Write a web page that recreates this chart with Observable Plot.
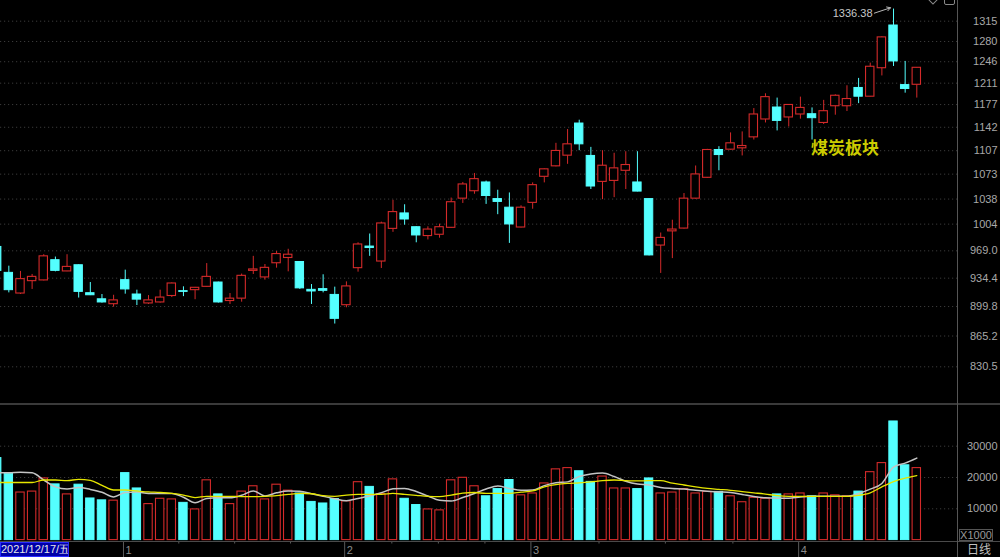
<!DOCTYPE html>
<html><head><meta charset="utf-8">
<script src="https://cdn.jsdelivr.net/npm/d3@7"></script>
<script src="https://cdn.jsdelivr.net/npm/@observablehq/plot@0.6"></script>
<style>
html,body{margin:0;padding:0;background:#000;overflow:hidden;}
#wrap{position:relative;width:1000px;height:557px;background:#000;overflow:hidden;font-family:"Liberation Sans",Arial,sans-serif;}
#wrap svg{position:absolute;left:0;display:block;overflow:hidden;}
.abs{position:absolute;}
</style></head><body><div id="wrap"></div>
<script>
// ---- data ----
const open  = [974,941,915.5,930.7,931.6,957,942.8,950.6,915.9,908.5,902.6,931.9,914.3,903.5,904.7,912.5,918.4,919.6,923.7,929,906.4,909.3,943.5,935.3,953.1,959.8,954.7,920,920.9,913.8,901.4,946.9,974.5,955.3,997.7,1018.4,999.9,988.2,989.9,999.1,1038.6,1048.9,1061.2,1038,1026.2,999.5,1032.8,1069.2,1084.2,1099.7,1147.7,1099.3,1062,1063.4,1077.8,1061.2,1038,975.8,994.4,998.1,1038.6,1067.8,1108,1108.5,1110.5,1126.8,1153.9,1172.4,1157,1161.6,1162,1148.6,1174.4,1174.4,1203.3,1189.4,1235.3,1307.5,1207.9,1208.4];
const high  = [976,949.4,942.8,939,964,961,964,951,929,914.3,913.4,944.4,919.6,913,919.6,928.5,923.7,923,952.7,929.5,915.5,939.5,961.9,951.5,968.1,971,955,926.5,938.6,923.3,929.8,979.4,990.9,1006.7,1036.3,1030.2,1000.5,1000.4,1004,1039.4,1061.2,1074,1063.1,1050.3,1046.5,1028.8,1060.6,1080.5,1117.9,1138.6,1152.8,1111.9,1107,1103.2,1105.5,1105.5,1038.5,992.2,1009.2,1045.7,1084.7,1109,1112.9,1133.5,1135,1170.8,1194,1187.2,1177,1188.7,1171.8,1183.6,1192.4,1206.8,1218.7,1243.7,1288,1336.38,1246.5,1236.5];
const low   = [941,916.3,914.3,920.5,931,942.3,942.5,910,913,903.9,899,914.7,901,902.3,904,910.6,911.7,908,923.5,904,902.3,905,939,931.9,946.9,942.3,920.5,902.3,916.3,879.1,898.3,941.9,961.9,946.5,993.1,1002.6,979.4,983.1,985.4,998.5,1032,1044.7,1030.7,1016.7,978.6,999,1024.1,1060.6,1083.5,1087.1,1107,1051.3,1037.2,1040,1051.3,1048,962.5,940.3,959,997.5,1038,1067,1077.8,1108,1099.3,1122.8,1148.6,1136.5,1142.5,1154.4,1122.8,1146.2,1160.5,1166.2,1178.5,1189,1222.7,1238.2,1195,1187.2];
const close = [943.5,919.6,933.2,936,961.9,943.5,948.5,917.5,913.4,904.7,907.2,920.5,908.1,907.2,910.6,927.8,917.5,922.5,936,904.7,909.3,937.3,945.3,947.3,964.8,964,921.8,918,918.8,885.2,924.2,977.2,972.6,1004.9,1020.2,1010.2,989,996.8,999.9,1033.7,1058.4,1065.9,1042.3,1034.1,1003.6,1026.2,1057.4,1079.9,1106.6,1116.4,1116.4,1055.5,1085.1,1081.3,1086.1,1048.4,963.1,985.8,996.8,1038.6,1072.6,1108,1100.6,1117.9,1113.9,1161.6,1188.7,1151.7,1176.4,1171.8,1155.9,1166.7,1190.9,1185.7,1189.4,1237.7,1287,1246.5,1201.7,1236];
// volume, in units of 1000 (axis shows X1000)
const volume = [26200,21200,15200,15500,19700,17800,14600,17700,13300,12700,12600,21400,16500,11500,13200,13000,11900,9800,19100,14600,11500,15500,17200,13000,17700,15800,14900,12200,11700,13100,12400,18500,17000,14700,19400,13200,11200,9800,9500,19100,19900,17200,14000,16300,19200,14300,14900,18100,22600,23000,22000,18600,20300,16500,16500,16300,19700,14900,15200,16300,14900,15400,15400,14000,12100,13500,13200,14600,14600,14900,14000,14900,14300,14000,15500,21700,24600,37900,23900,23000];
const ma5  = [21500,21500,21700,21500,19200,17000,16300,16800,16200,15300,13800,15200,15400,14900,14900,14900,13700,11900,13300,13500,13500,14300,15700,14100,15100,15700,15600,14800,14000,13200,12600,13300,14100,15100,16400,16500,15500,14100,12700,12500,13600,14900,16300,17300,16500,15900,16000,17400,18300,18600,20300,21100,21400,20300,18800,17900,17600,16800,16500,16300,15900,15600,15400,15200,14600,13900,13500,13400,13400,13800,14000,14000,14000,14000,14900,16300,18100,23300,24600,26200];
const ma10 = [18400,18400,18400,18400,19200,19200,19000,19400,19100,17500,16000,16000,15700,15400,15200,14900,14400,13600,14000,14000,14000,13900,13900,14000,14200,14600,14900,14800,14200,14000,14400,14600,14600,14600,14900,14600,14300,14000,13900,14400,15000,15200,14900,14900,14900,15300,15700,17000,17700,18100,18300,18600,19000,19200,19000,18900,19000,19000,18200,17600,17000,16500,16200,15900,15500,15100,14700,14200,14000,14000,14000,14000,14000,14000,14300,15100,17000,18700,19800,20600];
const priceTicks  = [1315,1280,1246,1211,1177,1142,1107,1073,1038,1004,969.0,934.4,899.8,865.2,830.5];
const priceLabels = ["1315","1280","1246","1211","1177","1142","1107","1073","1038","1004","969.0","934.4","899.8","865.2","830.5"];
const volTicks  = [10000,20000,30000];
const volLabels = ["10000","20000","30000"];
const monthStart  = [12,31,47,70];        // candle index of first trading day of month
const monthLabels = ["1","2","3","4"];
const minorTicks  = [16.6,21.4,26.2,34.9,38.9,42.9,52.7,58.4,64.2];
const firstDate = "2021/12/17/五";
const sectorName = "煤炭板块";
const peakLabel = "1336.38";

// ---- build ----
const data = open.map((o,k)=>({i:k+1, open:o, high:high[k], low:low[k], close:close[k], vol:volume[k], ma5:ma5[k], ma10:ma10[k]}));
const isUp = d => d.close >= d.open;
const ups = data.filter(isUp), downs = data.filter(d=>!isUp(d));
const RED = "#d42a2a", CYAN = "#54ffff", GRID = "#3a3a3a", LBL = "#a8a8a8";
const HW = 0.36;
const xScale = {type:"linear", domain:[1,80], range:[-3.3, 916.3], axis:null};
const style = {background:"transparent", fontFamily:"'Liberation Sans',Arial,sans-serif", fontSize:"11px", overflow:"hidden"};
const wrap = document.getElementById("wrap");
const peak = data.filter(d=>d.high===d3.max(high));

const main = Plot.plot({
  width:1000, height:404, marginLeft:0, marginRight:43, marginTop:0, marginBottom:0,
  style, x:xScale,
  y:{type:"log", domain:[789.9,1351.7], range:[404,0], axis:null},
  marks:[
    Plot.gridY(priceTicks, {stroke:GRID, strokeOpacity:1, strokeDasharray:"1.2,2.8"}),
    Plot.ruleX(ups, {x:"i", y1:"low", y2:"high", stroke:RED}),
    Plot.ruleX(downs, {x:"i", y1:"low", y2:"high", stroke:CYAN}),
    Plot.rect(ups, {x1:d=>d.i-HW, x2:d=>d.i+HW, y1:"open", y2:"close", fill:"#000", stroke:RED, strokeWidth:1.1}),
    Plot.rect(downs, {x1:d=>d.i-HW, x2:d=>d.i+HW, y1:"open", y2:"close", fill:CYAN, stroke:CYAN, strokeWidth:1}),
    Plot.text(priceTicks, {y:d=>d, text:(d,k)=>priceLabels[k], frameAnchor:"right", dx:40, textAnchor:"end", fill:LBL, fontSize:11}),
    Plot.text(peak, {x:"i", y:"high", text:()=>peakLabel, dx:-21, dy:4, textAnchor:"end", fill:"#c8c8c8", fontSize:11}),
    Plot.arrow(peak, {x1:d=>d.i-1.65, y1:d=>d.high*0.9946, x2:d=>d.i-0.26, y2:d=>d.high*1.0017, stroke:"#b8b8b8", strokeWidth:1, headLength:6, bend:0})
  ]
});
main.style.top = "0px";
wrap.appendChild(main);

const vol = Plot.plot({
  width:1000, height:137, marginLeft:0, marginRight:43, marginTop:0, marginBottom:0,
  style, x:xScale,
  y:{domain:[0,43320], range:[135.6,0], axis:null},
  marks:[
    Plot.gridY(volTicks, {stroke:GRID, strokeOpacity:1, strokeDasharray:"1.2,2.8"}),
    Plot.rect(ups, {x1:d=>d.i-HW, x2:d=>d.i+HW, y1:0, y2:"vol", fill:"#000", stroke:RED, strokeWidth:1.1}),
    Plot.rect(downs, {x1:d=>d.i-HW, x2:d=>d.i+HW, y1:0, y2:"vol", fill:CYAN, stroke:CYAN}),
    Plot.line(data, {x:"i", y:"ma5", stroke:"#c4c4c4", strokeWidth:1.5, curve:"monotone-x"}),
    Plot.line(data, {x:"i", y:"ma10", stroke:"#e6e600", strokeWidth:1.3, curve:"monotone-x"}),
    Plot.text(volTicks, {y:d=>d, text:(d,k)=>volLabels[k], frameAnchor:"right", dx:40, textAnchor:"end", fill:LBL, fontSize:11})
  ]
});
vol.style.top = "404px";
wrap.appendChild(vol);

const dates = Plot.plot({
  width:1000, height:16, marginLeft:0, marginRight:43, marginTop:0, marginBottom:0,
  style, x:xScale,
  y:{domain:[0,16], range:[0,16], axis:null},
  marks:[
    Plot.ruleX(monthStart, {x:d=>d-0.15, stroke:"#5a5a5a"}),
    Plot.ruleX(minorTicks, {x:d=>d, y1:0, y2:2.5, stroke:"#5a5a5a"}),
    Plot.text(monthStart, {x:d=>d-0.15, y:8.5, text:(d,k)=>monthLabels[k], textAnchor:"start", dx:2, fill:"#8a8a8a", fontSize:11})
  ]
});
dates.style.top = "541px";
wrap.appendChild(dates);

// ---- chrome (frame lines, labels) ----
function box(css, text){ const e=document.createElement("div"); e.className="abs"; e.style.cssText=css; if(text) e.textContent=text; wrap.appendChild(e); return e; }
box("left:0;top:403px;width:1000px;height:2px;background:#3a3a3a;");
box("left:0;top:541px;width:1000px;height:1px;background:#4a4a4a;");
box("left:957px;top:0;width:1px;height:557px;background:#555;");
box("left:0;top:542px;width:67px;height:13px;background:#0000a8;border:1px solid #2a2aff;color:#e8e8e8;font:11px/13px 'Liberation Sans',Arial,sans-serif;white-space:nowrap;overflow:hidden;", firstDate);
box("left:967px;top:542px;color:#c0c0c0;font:12px/14px 'Noto Sans CJK SC',sans-serif;", "日线");
box("left:959px;top:529px;width:32px;height:10px;border:1px solid #555;color:#999;font:11px/10px 'Liberation Sans',Arial,sans-serif;text-align:center;", "X1000");
box("left:811px;top:137px;color:#cccc00;font:bold 17px/19px 'Noto Sans CJK SC',sans-serif;white-space:nowrap;", sectorName);
box("left:929px;top:-5px;width:6px;height:6px;border:1px solid #888;transform:rotate(45deg);");
box("left:944px;top:-4px;width:9px;height:7px;border:1px solid #888;border-radius:2px;");
</script>
</body></html>
